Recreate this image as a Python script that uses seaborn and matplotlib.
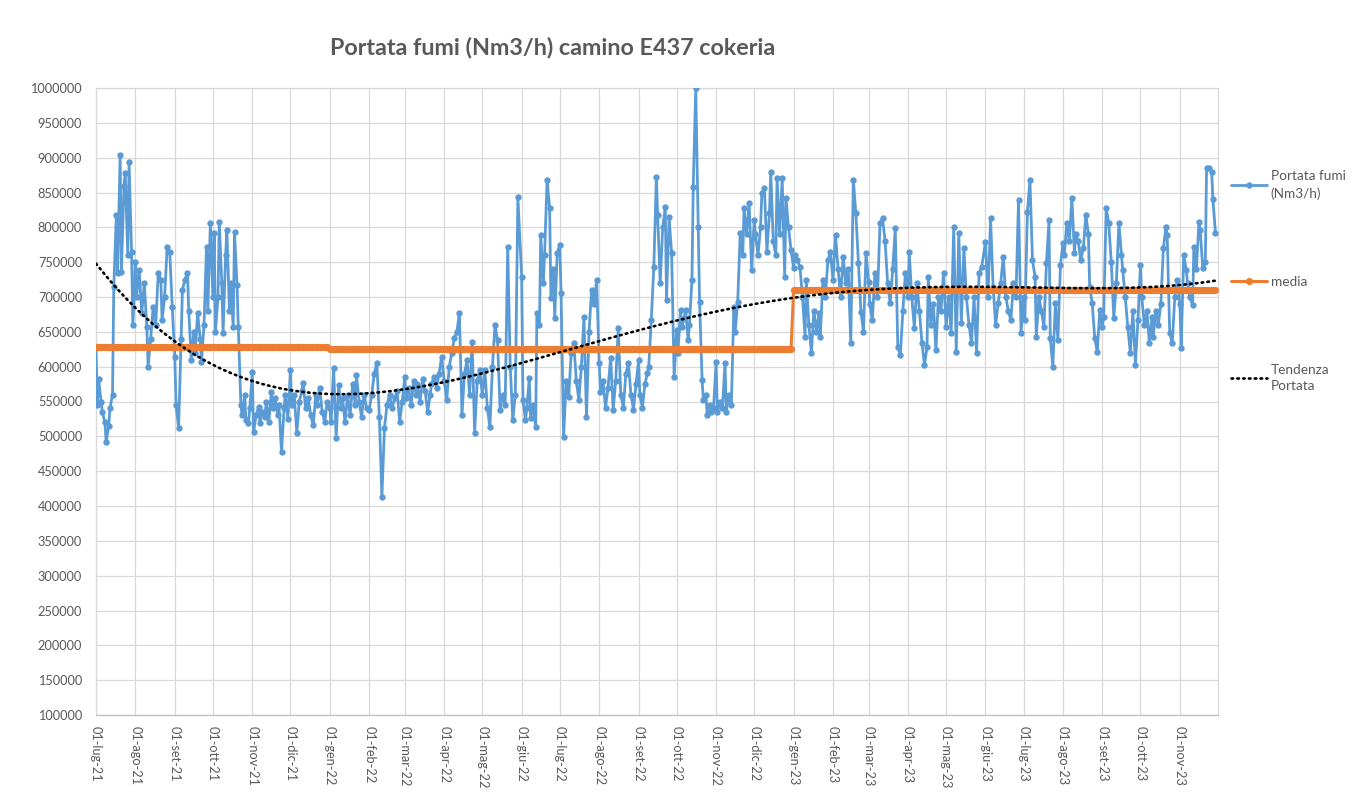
import numpy as np
import pandas as pd
import matplotlib
matplotlib.use("Agg")
import matplotlib.pyplot as plt
import seaborn as sns

# ---------------- data ----------------
v_2021_07 = [627000, 545000, 583000, 550000, 535000, 520000, 492000, 515000, 540000, 560000, 715000,
             818000, 735000, 904000, 736000, 860000, 878000, 760000, 894000, 765000, 660000]
v_2021_08 = [750000, 700000, 739000, 677000, 720000, 657000, 600000, 640000, 686000, 660000, 735000,
             725000, 667000, 700000, 772000, 765000, 686000]
v_2021_09 = [614000, 545000, 512000, 640000, 710000, 725000, 735000, 680000, 609000, 650000, 620000,
             677000, 640000, 607000, 660000, 772000, 680000, 806000]
v_2021_10 = [700000, 792000, 650000, 700000, 808000, 720000, 648000, 760000, 796000, 680000, 720000,
             657000, 793000, 717000, 657000, 545000, 530000, 560000, 523000, 519000, 540000]
v_2021_11 = [592000, 506000, 530000, 542000, 519000, 535000, 528000, 550000, 520000, 564000, 540000,
             555000, 530000, 545000, 477000, 540000, 560000, 525000]
v_2021_12 = [595000, 545000, 560000, 505000, 550000, 565000, 577000, 540000, 555000, 530000, 516000,
             560000, 545000, 570000, 535000, 520000, 550000]
v_2022_01 = [540000, 520000, 598000, 498000, 574000, 540000, 555000, 520000, 560000, 530000, 575000,
             545000, 588000, 550000, 528000, 560000, 540000]
v_2022_02 = [538000, 560000, 590000, 605000, 528000, 413000, 512000, 545000, 560000, 540000, 555000,
             565000, 520000, 550000]
v_2022_03 = [585000, 555000, 570000, 545000, 580000, 560000, 575000, 550000, 582000, 565000, 535000,
             560000, 575000, 585000, 570000, 590000, 614000]
v_2022_04 = [580000, 552000, 600000, 620000, 641000, 650000, 677000, 531000, 590000, 610000, 560000,
             635000, 505000, 580000, 595000]
v_2022_05 = [560000, 595000, 540000, 513000, 600000, 660000, 638000, 538000, 560000, 545000, 772000,
             600000, 523000, 560000, 843000]
v_2022_06 = [729000, 552000, 523000, 540000, 584000, 526000, 545000, 513000, 677000, 660000, 789000,
             720000, 760000, 868000, 828000, 699000, 740000, 670000, 763000]
v_2022_07 = [775000, 706000, 499000, 580000, 557000, 620000, 634000, 580000, 552000, 600000, 671000,
             528000, 650000, 710000, 690000, 724000]
v_2022_08 = [605000, 564000, 580000, 541000, 570000, 613000, 538000, 580000, 655000, 560000, 541000,
             590000, 605000, 560000, 538000, 575000]
v_2022_09 = [609000, 560000, 541000, 575000, 591000, 600000, 667000, 743000, 872000, 818000, 720000,
             800000, 829000, 696000, 815000, 763000, 585000]
v_2022_10 = [653000, 620000, 682000, 657000, 670000, 682000, 638000, 660000, 724000, 858000, 1000000,
             800000, 693000, 581000, 552000, 560000, 531000, 545000, 535000, 541000]
v_2022_11 = [607000, 535000, 550000, 540000, 605000, 535000, 560000, 545000, 686000, 650000, 693000,
             792000, 760000, 828000, 790000, 835000, 739000]
v_2022_12 = [810000, 790000, 760000, 800000, 849000, 857000, 765000, 820000, 880000, 780000, 760000,
             871000, 790000, 871000, 729000, 842000, 800000, 767000]
v_2023_01 = [741000, 760000, 753000, 743000, 700000, 643000, 724000, 660000, 620000, 680000, 650000,
             677000, 643000, 724000, 700000, 753000, 765000]
v_2023_02 = [724000, 789000, 740000, 700000, 758000, 720000, 740000, 634000, 868000, 820000, 749000,
             679000, 650000, 763000]
v_2023_03 = [722000, 690000, 667000, 735000, 700000, 806000, 813000, 780000, 720000, 691000, 740000,
             799000, 628000, 617000, 680000, 735000]
v_2023_04 = [700000, 765000, 700000, 656000, 720000, 680000, 634000, 603000, 628000, 729000, 660000,
             690000, 624000, 700000, 680000, 735000]
v_2023_05 = [657000, 700000, 648000, 800000, 621000, 792000, 663000, 770000, 700000, 660000, 634000,
             700000, 620000, 735000, 743000]
v_2023_06 = [779000, 700000, 813000, 715000, 660000, 691000, 720000, 758000, 700000, 680000, 667000,
             720000, 700000, 839000, 648000]
v_2023_07 = [700000, 667000, 822000, 868000, 753000, 729000, 643000, 700000, 680000, 657000, 749000,
             810000, 641000, 600000, 691000, 638000, 746000]
v_2023_08 = [777000, 760000, 806000, 780000, 842000, 763000, 790000, 780000, 753000, 770000, 818000,
             790000, 715000, 691000, 641000, 621000, 682000]
v_2023_09 = [657000, 671000, 828000, 806000, 750000, 670000, 720000, 806000, 760000, 739000, 700000,
             657000, 620000, 680000, 603000, 667000]
v_2023_10 = [746000, 700000, 660000, 680000, 634000, 671000, 643000, 680000, 660000, 690000, 770000,
             800000, 789000, 648000, 634000, 700000, 724000]
v_2023_11 = [690000, 627000, 760000, 739000, 720000, 700000, 688000, 772000, 740000, 808000, 796000,
             741000, 750000, 885000, 885000, 880000, 840000, 792000]

monthly_values = [v_2021_07, v_2021_08, v_2021_09, v_2021_10, v_2021_11, v_2021_12,
                  v_2022_01, v_2022_02, v_2022_03, v_2022_04, v_2022_05, v_2022_06,
                  v_2022_07, v_2022_08, v_2022_09, v_2022_10, v_2022_11, v_2022_12,
                  v_2023_01, v_2023_02, v_2023_03, v_2023_04, v_2023_05, v_2023_06,
                  v_2023_07, v_2023_08, v_2023_09, v_2023_10, v_2023_11]

# yearly means ("media")
media_years = [2021, 2022, 2023]
media_values = [628000, 625500, 710000]

# trend line ("Tendenza Portata") read at a few dates
trend_dates = ["2021-07-01", "2021-07-30", "2021-09-07", "2021-10-20", "2022-01-09",
               "2022-02-02", "2022-06-01", "2022-09-22", "2023-01-04", "2023-04-25",
               "2023-08-07", "2023-12-01"]
trend_values = [750000, 686000, 627000, 588000, 563000, 562000, 603000, 663000, 700000,
                714000, 713000, 724000]

month_labels = ["01-lug-21", "01-ago-21", "01-set-21", "01-ott-21", "01-nov-21", "01-dic-21",
                "01-gen-22", "01-feb-22", "01-mar-22", "01-apr-22", "01-mag-22", "01-giu-22",
                "01-lug-22", "01-ago-22", "01-set-22", "01-ott-22", "01-nov-22", "01-dic-22",
                "01-gen-23", "01-feb-23", "01-mar-23", "01-apr-23", "01-mag-23", "01-giu-23",
                "01-lug-23", "01-ago-23", "01-set-23", "01-ott-23", "01-nov-23"]

# ---------------- build frames ----------------
month_starts = pd.date_range("2021-07-01", periods=len(monthly_values), freq="MS")
dates, vals = [], []
for ms, mv in zip(month_starts, monthly_values):
    ndays = ms.days_in_month
    n = len(mv)
    offs = np.floor(np.arange(n) * ndays / n).astype(int)
    dates.extend(ms + pd.to_timedelta(offs, unit="D"))
    vals.extend(mv)
df = pd.DataFrame({"data": pd.to_datetime(dates), "portata": vals})
media_map = dict(zip(media_years, media_values))
df["media"] = df["data"].dt.year.map(media_map)

t0 = pd.Timestamp("2021-07-01")
tdays = (pd.to_datetime(trend_dates) - t0).days.values.astype(float)
coef = np.polyfit(tdays, trend_values, 4)
tgrid = pd.date_range("2021-07-01", "2023-12-01", freq="D")
tr = pd.DataFrame({"data": tgrid, "trend": np.polyval(coef, (tgrid - t0).days.values.astype(float))})

# ---------------- plot ----------------
sns.set_theme(style="white")
plt.rcParams["font.family"] = ["Lato", "DejaVu Sans"]
grey = "#595959"

fig = plt.figure(figsize=(13.66, 7.94), dpi=100)
ax = fig.add_axes([96 / 1366, 1 - 715 / 794, (1218 - 96) / 1366, (715 - 88) / 794])

sns.lineplot(data=df, x="data", y="portata", ax=ax, color="#5B9BD5", lw=2.0,
             marker="o", markersize=4.6, markeredgewidth=0, label="Portata fumi\n(Nm3/h)", zorder=3)
sns.lineplot(data=df, x="data", y="media", ax=ax, color="#ED7D31", lw=2.2,
             marker="o", markersize=5.2, markeredgewidth=0, label="media", zorder=4)
sns.lineplot(data=tr, x="data", y="trend", ax=ax, color="black", lw=1.9,
             linestyle=(0, (0.6, 1.6)), dash_capstyle="round", label="Tendenza\nPortata", zorder=5)

ax.set_xlim(pd.Timestamp("2021-07-01"), pd.Timestamp("2023-12-01"))
ax.set_ylim(100000, 1000000)
ax.set_yticks(np.arange(100000, 1000001, 50000))
ax.set_yticklabels([str(v) for v in range(100000, 1000001, 50000)])
ax.set_xticks(month_starts)
ax.set_xticklabels(month_labels, rotation=-90, va="top", ha="center")
ax.set_xlabel("")
ax.set_ylabel("")
ax.grid(True, color="#D9D9D9", lw=0.9)
ax.set_axisbelow(True)
for s in ax.spines.values():
    s.set_color("#D9D9D9")
    s.set_linewidth(0.9)
ax.spines["bottom"].set_color("#BFBFBF")
ax.tick_params(axis="y", length=0, pad=10, labelsize=9.2, labelcolor=grey)
ax.tick_params(axis="x", length=5, color="#D9D9D9", pad=3, labelsize=9.2, labelcolor=grey)

handles, labels = ax.get_legend_handles_labels()
if ax.get_legend() is not None:
    ax.get_legend().remove()
leg = fig.legend(handles, labels, loc="upper left", bbox_to_anchor=(1219 / 1366, 1 - 158 / 794),
                 frameon=False, fontsize=9.8, labelcolor=grey, handlelength=2.6, handletextpad=0.3,
                 labelspacing=5.6, numpoints=1)
for t in leg.get_texts():
    t.set_linespacing(1.45)

fig.text(553 / 1366, 1 - 47 / 794, "Portata fumi (Nm3/h) camino E437 cokeria",
         ha="center", va="center", fontsize=16.8, fontweight="bold", color=grey)

fig.savefig("out.png", dpi=100)
